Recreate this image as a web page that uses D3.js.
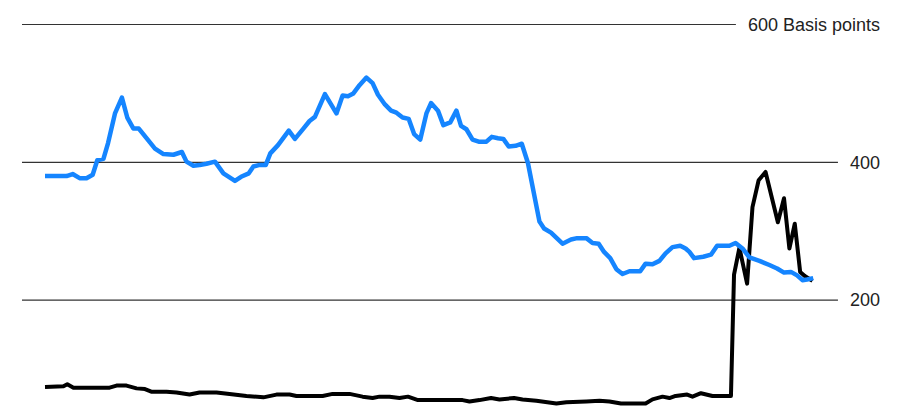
<!DOCTYPE html>
<html>
<head>
<meta charset="utf-8">
<script src="https://cdn.jsdelivr.net/npm/d3@7"></script>
<style>
  html, body { margin: 0; padding: 0; background: #fff; }
  svg { display: block; }
  text { font-family: "Liberation Sans", Arial, Helvetica, sans-serif; }
</style>
</head>
<body>
<svg id="chart" width="910" height="420"></svg>
<script>
// ---- Data (basis points) ----
const tickValues = [600, 400, 200];
const tickLabels = ["600 Basis points", "400", "200"];

// Blue series: period index (0-100) and value
const blueT = [0, 2.8, 3.6, 4.5, 5.4, 6.2, 6.8, 7.6, 8.2, 9.1, 10.0, 10.7, 11.5, 12.2, 13.2, 14.3, 15.4, 16.7, 17.8, 18.4,
  19.3, 20.1, 21.0, 22.1, 23.2, 24.7, 25.5, 26.5, 27.1, 27.8, 28.7, 29.3, 30.3, 31.7, 32.5, 33.6, 34.4, 35.1, 36.4, 37.9,
  38.7, 39.4, 40.1, 40.9, 41.8, 42.6, 43.3, 44.2, 45.0, 45.7, 46.5, 47.3, 48.0, 48.8, 49.6, 50.2, 51.1, 51.8, 52.7, 53.5,
  54.1, 54.8, 55.6, 56.4, 57.4, 58.1, 58.9, 59.6, 60.3, 61.2, 62.0, 62.8, 64.3, 64.9, 65.8, 67.3, 68.4, 69.2, 70.4, 71.2,
  72.0, 72.7, 73.5, 74.3, 75.1, 76.0, 77.4, 78.1, 79.0, 79.9, 80.7, 81.6, 82.6, 83.3, 83.8, 84.4, 85.6, 86.6, 87.4, 89.0,
  89.8, 90.7, 91.6, 92.9, 94.2, 95.2, 96.1, 97.0, 97.8, 98.5, 99.1, 99.9];
const blueV = [380, 380, 383, 377, 377, 382, 403, 405, 428, 471, 494, 465, 449, 449, 435, 420, 412, 411, 415, 401,
  395, 396, 398, 401, 384, 373, 379, 384, 394, 396, 396, 413, 425, 446, 434, 449, 460, 466, 499, 471,
  497, 496, 500, 512, 523, 515, 498, 484, 475, 472, 465, 463, 441, 433, 471, 486, 475, 454, 458, 475,
  453, 448, 433, 430, 430, 437, 435, 434, 423, 424, 427, 399, 314, 304, 298, 282, 288, 290, 290, 283,
  282, 270, 261, 245, 238, 242, 242, 253, 252, 257, 268, 277, 279, 275, 270, 261, 263, 266, 279, 279,
  283, 275, 262, 257, 251, 246, 240, 241, 236, 229, 230, 232];

// Black series: period index (0-100) and value
const blackT = [0, 2.4, 2.9, 3.7, 8.4, 9.3, 10.6, 11.9, 13.0, 13.9, 15.8, 17.1, 18.8, 20.1, 22.3, 24.0, 26.2, 28.4, 30.1, 31.8,
  32.7, 36.1, 37.4, 39.6, 41.3, 42.6, 43.5, 44.8, 46.1, 47.2, 48.5, 54.3, 55.2, 56.5, 58.0, 59.1, 61.0, 62.1, 63.9, 66.5,
  67.8, 70.4, 72.1, 73.4, 74.9, 78.1, 79.0, 80.3, 81.2, 82.0, 83.5, 84.2, 85.3, 86.8, 89.2, 89.6, 90.3, 91.3, 92.0, 92.8,
  93.7, 95.3, 96.1, 96.8, 97.5, 98.2, 98.8, 99.8];
const blackV = [74, 75, 78, 73, 73, 76, 76, 72, 71, 67, 67, 66, 63, 66, 66, 64, 61, 59, 63, 63,
  61, 61, 64, 64, 60, 58, 60, 60, 58, 60, 55, 55, 53, 55, 58, 56, 58, 56, 54, 50,
  52, 53, 54, 53, 50, 50, 56, 60, 58, 61, 63, 60, 65, 61, 61, 237, 276, 224, 335, 374,
  386, 313, 348, 275, 311, 241, 235, 228];

// ---- Chart ----
const svg = d3.select("#chart");
const x = d3.scaleLinear().domain([0, 100]).range([45, 814]);
const y = d3.scaleLinear().domain([0, 600]).range([438, 24.5]);

const gridLeft = 22;
const labelRight = 880;

const grid = svg.append("g");
tickValues.forEach((v, i) => {
  const t = grid.append("text")
    .attr("x", labelRight)
    .attr("y", y(v))
    .attr("dy", "0.35em")
    .attr("text-anchor", "end")
    .attr("font-size", 18)
    .attr("fill", "#222")
    .text(tickLabels[i]);
  const bb = t.node().getBBox();
  grid.insert("line", "text")
    .attr("x1", gridLeft)
    .attr("x2", bb.x - 12)
    .attr("y1", y(v))
    .attr("y2", y(v))
    .attr("stroke", "#333")
    .attr("stroke-width", 1.2);
});

const line = d3.line()
  .x(d => x(d[0]))
  .y(d => y(d[1]));

svg.append("path")
  .datum(d3.zip(blackT, blackV))
  .attr("fill", "none")
  .attr("stroke", "#000")
  .attr("stroke-width", 4)
  .attr("stroke-linejoin", "round")
  .attr("d", line);

svg.append("path")
  .datum(d3.zip(blueT, blueV))
  .attr("fill", "none")
  .attr("stroke", "#1585ff")
  .attr("stroke-width", 4.5)
  .attr("stroke-linejoin", "round")
  .attr("d", line);
</script>
</body>
</html>
